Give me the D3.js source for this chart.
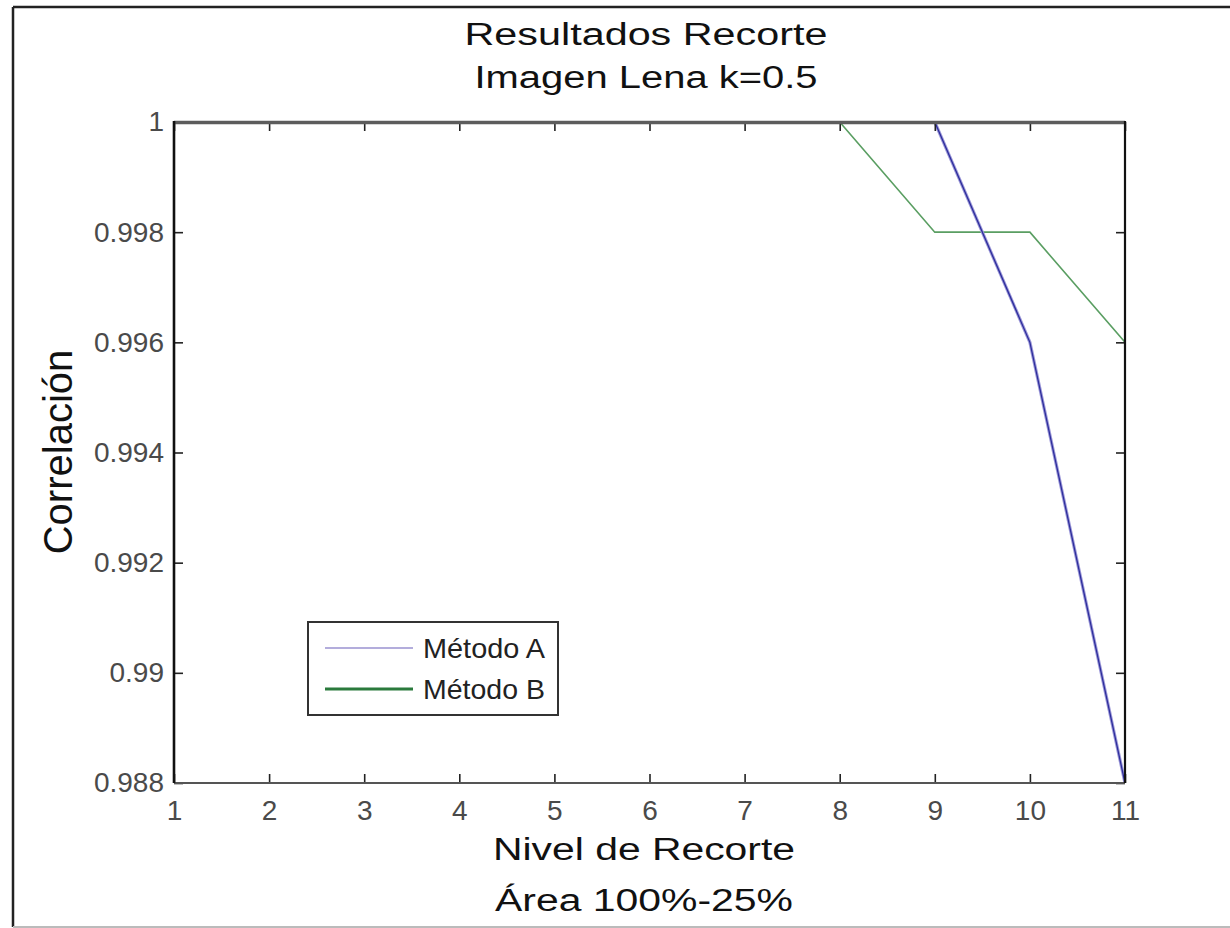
<!DOCTYPE html>
<html>
<head>
<meta charset="utf-8">
<script src="https://cdn.jsdelivr.net/npm/d3@7"></script>
<style>
  html, body { margin: 0; padding: 0; background: #fff; }
  svg { display: block; font-family: "Liberation Sans", Arial, sans-serif; }
</style>
</head>
<body>
<svg id="chart" width="1230" height="928"></svg>
<script>
// Recorte levels on the x axis
const niveles = [1, 2, 3, 4, 5, 6, 7, 8, 9, 10, 11];
// Correlation per level for each method
const metodoA = [1, 1, 1, 1, 1, 1, 1, 1, 1, 0.996, 0.988];
const metodoB = [1, 1, 1, 1, 1, 1, 1, 1, 0.998, 0.998, 0.996];
const seriesNames = ["Método A", "Método B"];
// Axis ticks
const xTicks = [1, 2, 3, 4, 5, 6, 7, 8, 9, 10, 11];
const yTicks = [0.988, 0.99, 0.992, 0.994, 0.996, 0.998, 1];
const yTickLabels = ["0.988", "0.99", "0.992", "0.994", "0.996", "0.998", "1"];

const svg = d3.select("#chart");
const plot = { left: 174, top: 122, right: 1125, bottom: 783 };

const x = d3.scaleLinear().domain([1, 11]).range([plot.left, plot.right]);
const y = d3.scaleLinear().domain([0.988, 1]).range([plot.bottom, plot.top]);

// Figure frame
svg.append("line").attr("x1", 13).attr("x2", 1230).attr("y1", 7).attr("y2", 7)
  .attr("stroke", "#222").attr("stroke-width", 2.5);
svg.append("line").attr("x1", 13).attr("x2", 13).attr("y1", 7).attr("y2", 927)
  .attr("stroke", "#222").attr("stroke-width", 2.5);
svg.append("line").attr("x1", 13).attr("x2", 1230).attr("y1", 927).attr("y2", 927)
  .attr("stroke", "#bbb").attr("stroke-width", 2);

// Clip the data to the axes box
svg.append("defs").append("clipPath").attr("id", "plotClip")
  .append("rect")
  .attr("x", plot.left).attr("y", plot.top)
  .attr("width", plot.right - plot.left).attr("height", plot.bottom - plot.top);

const line = d3.line().x((d, i) => x(niveles[i])).y(d => y(d));
const dataG = svg.append("g").attr("clip-path", "url(#plotClip)");

// Method B (green)
dataG.append("path").datum(metodoB)
  .attr("d", line).attr("fill", "none")
  .attr("stroke", "#5a9e62").attr("stroke-width", 1.6);

// Method A (blue with a soft lavender edge)
dataG.append("path").datum(metodoA)
  .attr("d", line).attr("fill", "none")
  .attr("stroke", "#9c98d8").attr("stroke-width", 3.2);
dataG.append("path").datum(metodoA)
  .attr("d", line).attr("fill", "none")
  .attr("stroke", "#2e2e9c").attr("stroke-width", 1.3);

// Axes: inward ticks on all four sides
const tickLen = 9;
const axisStyle = g => {
  g.select(".domain").remove();
  g.selectAll(".tick line").attr("stroke", "#222").attr("stroke-width", 1.6);
  g.selectAll(".tick text").attr("fill", "#4a4a4a").attr("font-size", 28);
};

svg.append("g").attr("transform", `translate(0,${plot.bottom})`)
  .call(d3.axisBottom(x).tickValues(xTicks).tickFormat(d3.format("d"))
    .tickSize(-tickLen).tickPadding(17))
  .call(axisStyle);

svg.append("g").attr("transform", `translate(0,${plot.top})`)
  .call(d3.axisTop(x).tickValues(xTicks).tickFormat("").tickSize(-tickLen))
  .call(axisStyle);

svg.append("g").attr("transform", `translate(${plot.left},0)`)
  .call(d3.axisLeft(y).tickValues(yTicks)
    .tickFormat((d, i) => yTickLabels[i])
    .tickSize(-tickLen).tickPadding(10))
  .call(axisStyle);

svg.append("g").attr("transform", `translate(${plot.right},0)`)
  .call(d3.axisRight(y).tickValues(yTicks).tickFormat("").tickSize(-tickLen))
  .call(axisStyle);

// Axes box (top edge is wide enough to sit over the lines running along y = 1)
svg.append("line").attr("x1", plot.left).attr("x2", plot.right)
  .attr("y1", plot.top + 0.5).attr("y2", plot.top + 0.5)
  .attr("stroke", "#5c5c5c").attr("stroke-width", 3.6);
svg.append("line").attr("x1", plot.left).attr("x2", plot.right)
  .attr("y1", plot.bottom).attr("y2", plot.bottom)
  .attr("stroke", "#555").attr("stroke-width", 2.2);
svg.append("line").attr("x1", plot.left).attr("x2", plot.left)
  .attr("y1", plot.top - 1).attr("y2", plot.bottom)
  .attr("stroke", "#111").attr("stroke-width", 2.6);
svg.append("line").attr("x1", plot.right).attr("x2", plot.right)
  .attr("y1", plot.top - 1).attr("y2", plot.bottom)
  .attr("stroke", "#111").attr("stroke-width", 2.2);

// Title
const titleLines = [
  { text: "Resultados Recorte", y: 45, w: 363 },
  { text: "Imagen Lena k=0.5", y: 88, w: 343 }
];
titleLines.forEach(t => {
  svg.append("text").attr("x", 646).attr("y", t.y)
    .attr("text-anchor", "middle").attr("font-size", 31).attr("fill", "#111")
    .attr("textLength", t.w).attr("lengthAdjust", "spacingAndGlyphs")
    .text(t.text);
});

// X axis label
const xLabelLines = [
  { text: "Nivel de Recorte", y: 860, w: 302 },
  { text: "Área 100%-25%", y: 911, w: 298 }
];
xLabelLines.forEach(t => {
  svg.append("text").attr("x", 644).attr("y", t.y)
    .attr("text-anchor", "middle").attr("font-size", 31).attr("fill", "#111")
    .attr("textLength", t.w).attr("lengthAdjust", "spacingAndGlyphs")
    .text(t.text);
});

// Y axis label
svg.append("text")
  .attr("transform", "translate(72,452) rotate(-90)")
  .attr("text-anchor", "middle").attr("font-size", 40).attr("fill", "#111")
  .text("Correlación");

// Legend
const legend = svg.append("g");
legend.append("rect").attr("x", 308).attr("y", 622).attr("width", 250).attr("height", 93)
  .attr("fill", "#fff").attr("stroke", "#333").attr("stroke-width", 2);
const legendItems = [
  { name: seriesNames[0], y: 648, color: "#9a92d0", width: 1.6 },
  { name: seriesNames[1], y: 689, color: "#2a7a3c", width: 3 }
];
legendItems.forEach(it => {
  legend.append("line").attr("x1", 325).attr("x2", 413)
    .attr("y1", it.y).attr("y2", it.y)
    .attr("stroke", it.color).attr("stroke-width", it.width);
  legend.append("text").attr("x", 423).attr("y", it.y + 10)
    .attr("font-size", 28).attr("fill", "#222")
    .attr("textLength", 122).attr("lengthAdjust", "spacingAndGlyphs")
    .text(it.name);
});
</script>
</body>
</html>
